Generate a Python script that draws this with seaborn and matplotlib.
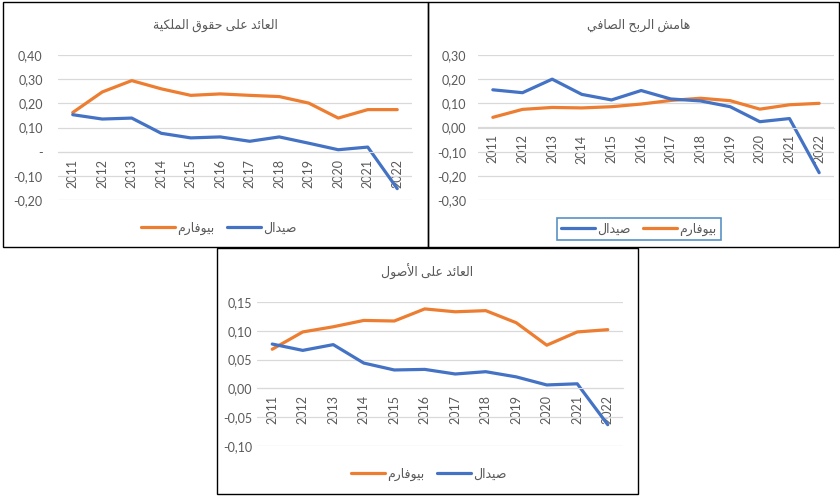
import numpy as np
import pandas as pd
import seaborn as sns
import matplotlib.pyplot as plt
from matplotlib.patches import Rectangle
from matplotlib.ticker import FuncFormatter

# Data
years = ["2011", "2012", "2013", "2014", "2015", "2016",
         "2017", "2018", "2019", "2020", "2021", "2022"]

roe_biopharm = [0.162, 0.247, 0.294, 0.260, 0.233, 0.239, 0.233, 0.228, 0.201, 0.139, 0.174, 0.174]
roe_saidal = [0.153, 0.135, 0.139, 0.076, 0.057, 0.061, 0.043, 0.061, 0.035, 0.008, 0.019, -0.153]

npm_biopharm = [0.042, 0.075, 0.083, 0.081, 0.086, 0.097, 0.112, 0.121, 0.111, 0.076, 0.094, 0.100]
npm_saidal = [0.156, 0.144, 0.200, 0.137, 0.114, 0.153, 0.118, 0.110, 0.086, 0.024, 0.037, -0.187]

roa_biopharm = [0.068, 0.098, 0.107, 0.118, 0.117, 0.138, 0.133, 0.135, 0.114, 0.075, 0.098, 0.102]
roa_saidal = [0.077, 0.066, 0.076, 0.044, 0.032, 0.033, 0.025, 0.029, 0.020, 0.006, 0.008, -0.063]

title_roe = "العائد على حقوق الملكية"
title_npm = "هامش الربح الصافي"
title_roa = "العائد على الأصول"
name_biopharm = "بيوفارم"
name_saidal = "صيدال"

# matplotlib does no Arabic shaping / RTL, so map letters to presentation forms
# (isolated, final, initial, medial); None = letter does not join the next one
FORMS = {
    "ا": ("\uFE8D", "\uFE8E", None, None),
    "أ": ("\uFE83", "\uFE84", None, None),
    "ب": ("\uFE8F", "\uFE90", "\uFE91", "\uFE92"),
    "ة": ("\uFE93", "\uFE94", None, None),
    "ح": ("\uFEA1", "\uFEA2", "\uFEA3", "\uFEA4"),
    "د": ("\uFEA9", "\uFEAA", None, None),
    "ر": ("\uFEAD", "\uFEAE", None, None),
    "ش": ("\uFEB5", "\uFEB6", "\uFEB7", "\uFEB8"),
    "ص": ("\uFEB9", "\uFEBA", "\uFEBB", "\uFEBC"),
    "ع": ("\uFEC9", "\uFECA", "\uFECB", "\uFECC"),
    "ف": ("\uFED1", "\uFED2", "\uFED3", "\uFED4"),
    "ق": ("\uFED5", "\uFED6", "\uFED7", "\uFED8"),
    "ك": ("\uFED9", "\uFEDA", "\uFEDB", "\uFEDC"),
    "ل": ("\uFEDD", "\uFEDE", "\uFEDF", "\uFEE0"),
    "م": ("\uFEE1", "\uFEE2", "\uFEE3", "\uFEE4"),
    "ه": ("\uFEE9", "\uFEEA", "\uFEEB", "\uFEEC"),
    "و": ("\uFEED", "\uFEEE", None, None),
    "ى": ("\uFEEF", "\uFEF0", None, None),
    "ي": ("\uFEF1", "\uFEF2", "\uFEF3", "\uFEF4"),
    "ئ": ("\uFE89", "\uFE8A", "\uFE8B", "\uFE8C"),
}
LAM_ALEF = {"ا": ("\uFEFB", "\uFEFC"), "أ": ("\uFEF7", "\uFEF8")}


def shape(text):
    out = []
    i = 0
    while i < len(text):
        c = text[i]
        prev_joins = i > 0 and text[i - 1] in FORMS and FORMS[text[i - 1]][2] is not None
        if c == "ل" and i + 1 < len(text) and text[i + 1] in LAM_ALEF:
            out.append(LAM_ALEF[text[i + 1]][1 if prev_joins else 0])
            i += 2
            continue
        if c not in FORMS:
            out.append(c)
            i += 1
            continue
        next_joins = FORMS[c][2] is not None and i + 1 < len(text) and text[i + 1] in FORMS
        if prev_joins and next_joins:
            out.append(FORMS[c][3])
        elif prev_joins:
            out.append(FORMS[c][1])
        elif next_joins:
            out.append(FORMS[c][2])
        else:
            out.append(FORMS[c][0])
        i += 1
    return "".join(reversed(out))


sns.set_style("white")
plt.rcParams["font.family"] = ["Lato", "DejaVu Sans"]

ORANGE = "#ED7D31"
BLUE = "#4472C4"
GREY = "#595959"
GRID = "#D9D9D9"

W, H = 840, 499
fig = plt.figure(figsize=(W / 100, H / 100), dpi=100)


def fig_box(x0, y0, x1, y1):
    # pixel box (top-left origin) -> figure fraction [left, bottom, width, height]
    return [x0 / W, 1 - y1 / H, (x1 - x0) / W, (y1 - y0) / H]


def panel(rect, biopharm, saidal, title, ylim, step, dash_zero, ypad,
          title_xy, legend_xy, saidal_first, boxed):
    ax = fig.add_axes(fig_box(*rect))
    x = np.arange(len(years))
    df = pd.DataFrame({"x": np.concatenate([x, x]),
                       "value": biopharm + saidal,
                       "company": [name_biopharm] * len(x) + [name_saidal] * len(x)})
    sns.lineplot(data=df[df.company == name_biopharm], x="x", y="value",
                 color=ORANGE, linewidth=2.3, ax=ax, label=shape(name_biopharm))
    sns.lineplot(data=df[df.company == name_saidal], x="x", y="value",
                 color=BLUE, linewidth=2.3, ax=ax, label=shape(name_saidal))

    for s in ["top", "left", "right"]:
        ax.spines[s].set_visible(False)
    ax.spines["bottom"].set_position(("data", 0))
    ax.spines["bottom"].set_color(GRID)

    ax.set_xlim(-0.5, len(years) - 0.5)
    ax.set_ylim(*ylim)
    ax.set_yticks(np.arange(ylim[0], ylim[1] + step / 2, step))

    def fmt(v, pos):
        if dash_zero and abs(v) < 1e-9:
            return "-"
        return f"{v:.2f}".replace(".", ",").replace("-0,00", "0,00")

    ax.yaxis.set_major_formatter(FuncFormatter(fmt))
    ax.set_xticks(x)
    ax.set_xticklabels(years)
    ax.set_xlabel("")
    ax.set_ylabel("")
    ax.grid(axis="y", color=GRID, linewidth=0.9)
    ax.set_axisbelow(True)
    ax.tick_params(axis="x", length=0, pad=5, labelsize=9, labelcolor=GREY,
                   labelrotation=90)
    ax.tick_params(axis="y", length=0, pad=ypad, labelsize=9, labelcolor=GREY)

    fig.text(title_xy[0] / W, 1 - title_xy[1] / H, shape(title), ha="center",
             va="center", fontsize=9, color=GREY)

    handles, labels = ax.get_legend_handles_labels()
    if saidal_first:
        handles, labels = handles[::-1], labels[::-1]
    leg = ax.legend(handles, labels, loc="center",
                    bbox_to_anchor=(legend_xy[0] / W, 1 - legend_xy[1] / H),
                    bbox_transform=fig.transFigure, ncol=2, frameon=boxed,
                    fancybox=False, fontsize=9, handlelength=2.7,
                    columnspacing=1.0, handletextpad=0.2, borderpad=0.35)
    for t in leg.get_texts():
        t.set_color(GREY)
    if boxed:
        leg.get_frame().set_edgecolor("#2E75B6")
        leg.get_frame().set_linewidth(1.2)
    return ax


panel((58, 55, 412, 200), roe_biopharm, roe_saidal, title_roe, (-0.2, 0.4), 0.1,
      True, 11, (215, 25), (219, 228), False, False)
panel((478, 55, 834, 200), npm_biopharm, npm_saidal, title_npm, (-0.3, 0.3), 0.1,
      False, 8.5, (639, 25), (639, 229), True, True)
panel((257, 302, 623, 446), roa_biopharm, roa_saidal, title_roa, (-0.1, 0.15), 0.05,
      False, 3.6, (427, 272), (429, 474), False, False)

# black frames around the three chart boxes
for x0, y0, x1, y1 in [(3, 2, 428, 247), (428, 2, 839, 247), (217, 248, 638, 494)]:
    fig.add_artist(Rectangle((x0 / W, 1 - y1 / H), (x1 - x0) / W, (y1 - y0) / H,
                             transform=fig.transFigure, fill=False,
                             edgecolor="black", linewidth=1.0))

fig.savefig("out.png", dpi=100)
